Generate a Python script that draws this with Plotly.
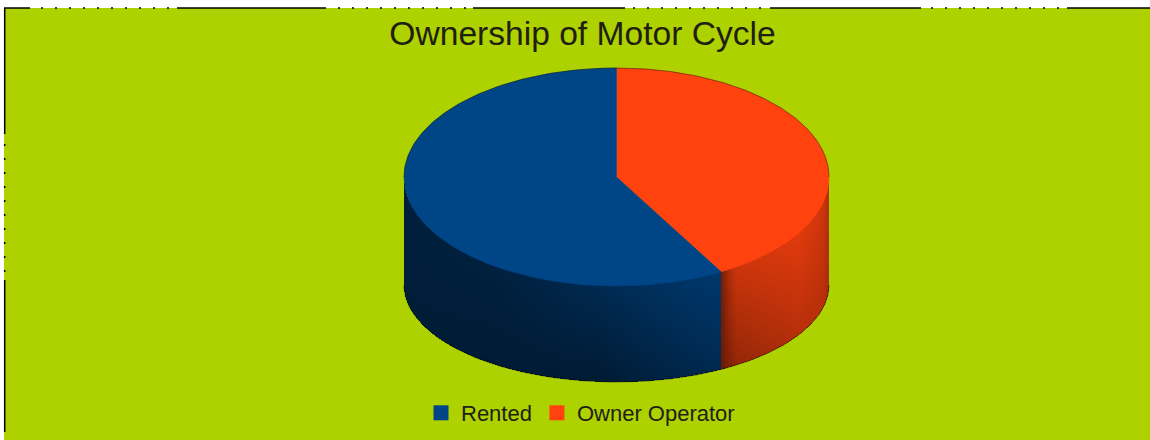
import numpy as np
import plotly.graph_objects as go

# --- data ---
categories = ["Rented", "Owner Operator"]
shares = [58.2, 41.8]
title_text = "Ownership of Motor Cycle"

# --- style ---
base_colors = {"Rented": (0, 69, 134), "Owner Operator": (255, 66, 14)}
LIME = "#aed100"
TEXT = "#211f14"
FONT = "Liberation Sans"
W, H = 1150, 440

# pie geometry (pixel-space axis)
CX, RX = 616.5, 212.5
TOP_CY, TOP_RY = 177.0, 109.0
BOT_CY, BOT_RY = 285.0, 97.0

# wall shading: multiplier of base colour by x position, at top / bottom of wall
shade = {
    "Rented": {
        "x": [404, 500, 600, 722],
        "top": [0.45, 0.47, 0.60, 0.82],
        "bot": [0.42, 0.39, 0.38, 0.60],
    },
    "Owner Operator": {
        "x": [720, 723, 729, 737, 800, 822, 829],
        "top": [0.45, 0.50, 0.68, 0.80, 0.88, 0.82, 0.70],
        "bot": [0.40, 0.42, 0.50, 0.58, 0.72, 0.72, 0.66],
    },
}


def top_xy(theta):
    return CX + RX * np.sin(theta), TOP_CY - TOP_RY * np.cos(theta)


def bot_xy(theta):
    return CX + RX * np.sin(theta), BOT_CY - BOT_RY * np.cos(theta)


# slices run clockwise from 12 o'clock: Owner Operator first, then Rented
order = ["Owner Operator", "Rented"]
total = sum(shares)
value_of = dict(zip(categories, shares))
spans = {}
start = 0.0
for name in order:
    end = start + value_of[name] / total * 2 * np.pi
    spans[name] = (start, end)
    start = end

fig = go.Figure()

# legend entries
for name in categories:
    r, g, b = base_colors[name]
    fig.add_trace(go.Scatter(
        x=[None], y=[None], mode="markers", name=name,
        marker=dict(symbol="square", size=15, color=f"rgb({r},{g},{b})"),
    ))

# side wall: one shaded heatmap per slice, on a one-pixel grid
grid_x = np.arange(int(CX - RX), int(CX + RX) + 2) + 0.5
grid_y = np.arange(int(TOP_CY), int(BOT_CY + BOT_RY) + 2) + 0.5
boundary_x = CX + RX * np.sin(spans["Owner Operator"][1])
for name in order:
    s = shade[name]
    u = np.clip((grid_x - CX) / RX, -1, 1)
    half_top = TOP_RY * np.sqrt(1 - u ** 2)
    half_bot = BOT_RY * np.sqrt(1 - u ** 2)
    y_top = TOP_CY + half_top
    y_bot = BOT_CY + half_bot
    mt = np.interp(grid_x, s["x"], s["top"])
    mb = np.interp(grid_x, s["x"], s["bot"])
    z = []
    for yy in grid_y:
        t = (yy - y_top) / (y_bot - y_top)
        row = mt + (mb - mt) * np.clip(t, 0, 1)
        mask = (yy < y_top - 1) | (yy > y_bot) | (np.abs(grid_x - CX) > RX)
        if name == "Rented":
            mask |= grid_x > boundary_x
        else:
            mask |= grid_x <= boundary_x
        row = np.where(mask, np.nan, row)
        z.append(row)
    r0, g0, b0 = base_colors[name]
    fig.add_trace(go.Heatmap(
        x=grid_x, y=grid_y, z=z, zmin=0, zmax=1, showscale=False,
        colorscale=[[0, "rgb(0,0,0)"], [1, f"rgb({r0},{g0},{b0})"]],
        hoverinfo="skip",
    ))

# silhouette edge (bottom arc)
th = np.radians(np.linspace(90, 270, 181))
x_b, y_b = bot_xy(th)
fig.add_trace(go.Scatter(x=x_b, y=y_b, mode="lines",
                         line=dict(color="rgba(10,10,0,0.5)", width=1),
                         hoverinfo="skip", showlegend=False))

# top faces
for name in order:
    a, b = spans[name]
    th = np.linspace(a, b, 240)
    x_t, y_t = top_xy(th)
    xs = [CX] + list(x_t) + [CX]
    ys = [TOP_CY] + list(y_t) + [TOP_CY]
    r, g, bl = base_colors[name]
    col = f"rgb({r},{g},{bl})"
    fig.add_trace(go.Scatter(
        x=xs, y=ys, mode="lines", fill="toself", fillcolor=col,
        line=dict(color=col, width=0.5), name=name, showlegend=False,
        hovertemplate=f"{name}: {value_of[name]}%<extra></extra>",
    ))

th = np.radians(np.linspace(-90, 90, 181))
x_u, y_u = top_xy(th)
fig.add_trace(go.Scatter(x=x_u, y=y_u, mode="lines",
                         line=dict(color="rgba(10,10,0,0.4)", width=1),
                         hoverinfo="skip", showlegend=False))

# frame: lime panel and the broken black outline of the source screenshot
shapes = [dict(type="rect", x0=4, x1=W, y0=8, y1=H, line=dict(width=0),
               fillcolor=LIME, layer="below")]


def seg(x0, y0, x1, y1, dash="solid"):
    return dict(type="line", x0=x0, y0=y0, x1=x1, y1=y1, layer="above",
                line=dict(color="#000000", width=1.5, dash=dash))


DOT = "2px,12px"
for x0, x1 in [(4, 30), (177, 326), (473, 625), (770, 921), (1067, 1150)]:
    shapes.append(seg(x0, 8, x1, 8))
for x0, x1 in [(41, 170), (338, 466), (633, 765), (931, 1060)]:
    shapes.append(seg(x0, 8, x1, 8, DOT))
for y0, y1 in [(8, 134), (280, 432)]:
    shapes.append(seg(4.7, y0, 4.7, y1))
shapes.append(seg(4.7, 144, 4.7, 272, DOT))

fig.update_layout(
    width=W, height=H,
    margin=dict(l=0, r=0, t=0, b=0),
    autosize=False,
    paper_bgcolor="white",
    plot_bgcolor="rgba(0,0,0,0)",
    font=dict(family=FONT, color=TEXT),
    title=dict(text=title_text, font=dict(size=33.6, family=FONT, color=TEXT),
               x=582.5 / W, xanchor="center", y=1 - 33 / H, yanchor="middle"),
    xaxis=dict(range=[0, W], visible=False, fixedrange=True),
    yaxis=dict(range=[H, 0], visible=False, fixedrange=True),
    showlegend=True,
    legend=dict(orientation="h", x=580.5 / W, xanchor="center",
                y=1 - 413 / H, yanchor="middle",
                font=dict(size=22, family=FONT, color=TEXT),
                bgcolor="rgba(0,0,0,0)"),
    shapes=shapes,
)

# the window is exactly the figure size: drop the page's default body margin
fig.write_html("out.html", config={"displayModeBar": False},
               post_script="document.body.style.margin='0';")
